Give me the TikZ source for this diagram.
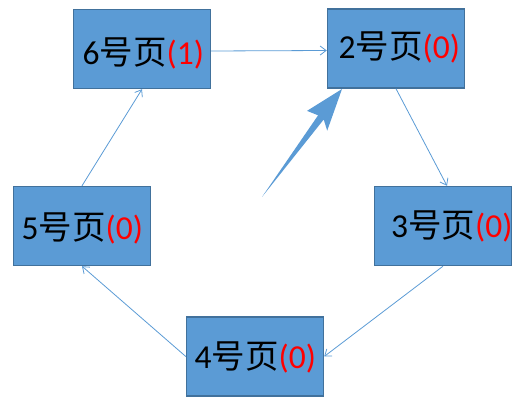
\documentclass[tikz,border=0pt]{standalone}
\usepackage{fontspec}
\setmainfont{Carlito}
\newfontfamily\cjk{Noto Sans CJK SC}
\usetikzlibrary{arrows.meta}
\definecolor{boxfill}{HTML}{5B9BD5}
\definecolor{boxline}{HTML}{41719C}
\definecolor{linecol}{HTML}{5B9BD5}
\definecolor{numred}{HTML}{FF0000}
\tikzset{
  pagebox/.style={rectangle, minimum width=137pt, minimum height=79pt, inner sep=0pt,
    fill=boxfill, draw=boxline, line width=1.4pt},
  pagetext/.style={anchor=base west, inner sep=0pt, font=\fontsize{33.5}{36}\selectfont},
  link/.style={draw=linecol, line width=0.8pt, -{Straight Barb[length=6pt,width=9pt]}},
}
\newcommand{\pg}[2]{#1{\cjk 号页}\textcolor{numred}{(#2)}}
\begin{document}
\begin{tikzpicture}[x=1pt,y=-1pt]
\useasboundingbox (0,0) rectangle (528,406);
\node[pagebox] (b6) at (142,49) {};
\node[pagebox] (b2) at (396,48.5) {};
\node[pagebox] (b3) at (443,226) {};
\node[pagebox] (b4) at (255,356.5) {};
\node[pagebox] (b5) at (82,226) {};
\node[pagetext] (t6) at (82.5,65) {\pg{6}{1}};
\node[pagetext] (t2) at (338.5,58.5) {\pg{2}{0}};
\node[pagetext] (t3) at (391,238) {\pg{3}{0}};
\node[pagetext] (t5) at (21.5,240) {\pg{5}{0}};
\node[pagetext] (t4) at (194.5,368) {\pg{4}{0}};
\draw[link] ([yshift=-2pt]b6.east) -- ([yshift=-2pt]b2.west);
\draw[link] (b2.south) -- ([xshift=4pt]b3.north);
\draw[link] (b3.south) -- (b4.east);
\draw[link] (b4.west) -- (b5.south);
\draw[link] (b5.north) -- (b6.south);
\fill[linecol] (262,197) -- (323.7,119.5) -- (327.2,130.7) -- (342,89)
  -- (307,110.9) -- (318.1,115.3) -- cycle;
\end{tikzpicture}
\end{document}
